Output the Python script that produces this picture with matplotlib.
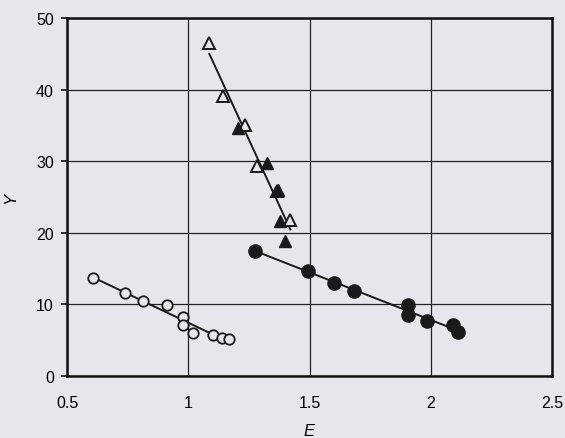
"""Recreate the Y vs E scatter chart with fitted lines."""

import numpy as np
import matplotlib
matplotlib.use("Agg")
import matplotlib.pyplot as plt

# open triangles
tri_open_e = [1.087, 1.145, 1.236, 1.285, 1.364, 1.421]
tri_open_y = [46.5, 39.1, 35.1, 29.3, 25.8, 21.8]
# filled triangles
tri_fill_e = [1.207, 1.326, 1.372, 1.380, 1.401]
tri_fill_y = [34.6, 29.7, 26.0, 21.6, 18.9]
# filled circles
circ_fill_e = [1.277, 1.492, 1.603, 1.682, 1.905, 1.905, 1.983, 2.091, 2.112]
circ_fill_y = [17.5, 14.7, 13.0, 11.9, 9.9, 8.5, 7.7, 7.1, 6.1]
# open circles
circ_open_e = [0.607, 0.740, 0.814, 0.913, 0.979, 0.979, 1.021, 1.103, 1.140, 1.169]
circ_open_y = [13.7, 11.6, 10.5, 9.9, 8.2, 7.1, 6.0, 5.7, 5.3, 5.1]

x_ticks = [0.5, 1, 1.5, 2, 2.5]
x_tick_labels = ["0.5", "1", "1.5", "2", "2.5"]
y_ticks = [0, 10, 20, 30, 40, 50]

BG = "#e5e7ec"
INK = "#1a1a1a"

plt.rcParams["font.family"] = ["Liberation Sans", "DejaVu Sans"]

fig = plt.figure(figsize=(5.65, 4.39), dpi=100, facecolor=BG)
ax = fig.add_axes([0.1186, 0.1412, 0.8584, 0.8155])
ax.set_facecolor(BG)


def fit_line(e, y):
    e = np.asarray(e)
    k, b = np.polyfit(e, np.asarray(y), 1)
    xs = np.array([e.min(), e.max()])
    ax.plot(xs, k * xs + b, color=INK, lw=1.4, zorder=2)


fit_line(tri_open_e + tri_fill_e, tri_open_y + tri_fill_y)
fit_line(circ_fill_e, circ_fill_y)
fit_line(circ_open_e, circ_open_y)

ax.plot(tri_open_e, tri_open_y, ls="none", marker="^", ms=8.5, mfc=BG, mec=INK, mew=1.4, zorder=3)
ax.plot(tri_fill_e, tri_fill_y, ls="none", marker="^", ms=8.5, mfc=INK, mec=INK, zorder=4)
ax.plot(circ_fill_e, circ_fill_y, ls="none", marker="o", ms=9.5, mfc=INK, mec=INK, zorder=3)
ax.plot(circ_open_e, circ_open_y, ls="none", marker="o", ms=7.5, mfc=BG, mec=INK, mew=1.3, zorder=3)

ax.set_xlim(0.5, 2.5)
ax.set_ylim(0, 50)
ax.set_xticks(x_ticks)
ax.set_xticklabels(x_tick_labels)
ax.set_yticks(y_ticks)
ax.grid(True, color="#222222", lw=0.9)
ax.set_axisbelow(True)
for s in ax.spines.values():
    s.set_linewidth(1.8)
    s.set_color("#111111")
ax.tick_params(axis="y", labelsize=11.5, length=4.5, width=1.2, color="#111111", pad=5)
ax.tick_params(axis="x", labelsize=11.5, length=0, pad=14)
ax.set_xlabel("E", style="italic", fontsize=12)
ax.set_ylabel("Y", style="italic", fontsize=12)
ax.xaxis.set_label_coords(0.5, -0.132)
ax.yaxis.set_label_coords(-0.10, 0.5)

fig.savefig("out.png", dpi=100, facecolor=BG)
